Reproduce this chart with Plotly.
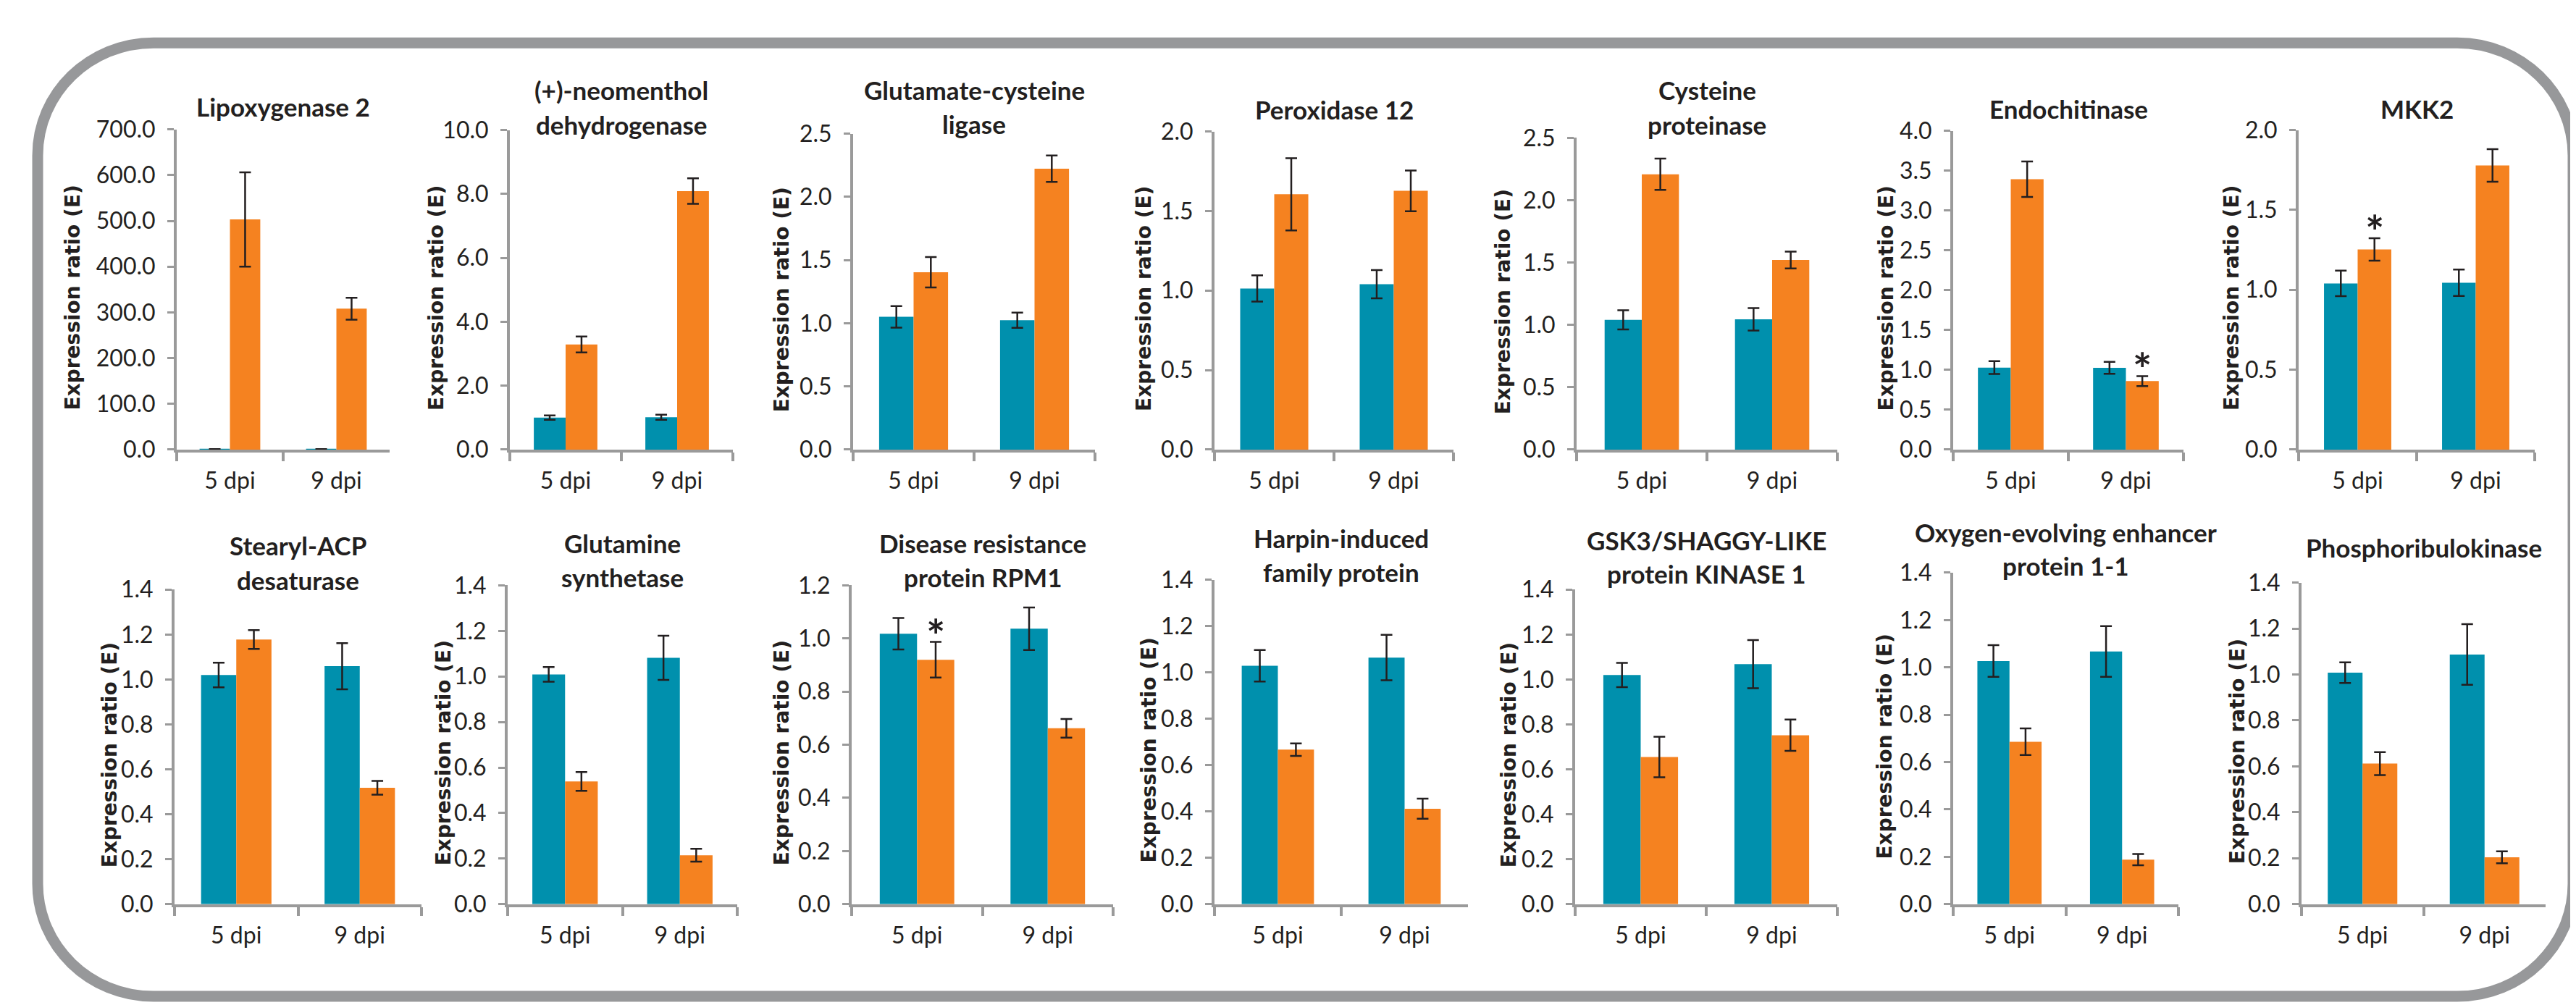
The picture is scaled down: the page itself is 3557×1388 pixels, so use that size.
import plotly.graph_objects as go

W, H = 3557, 1388

# ---------------- data ----------------
titles = [
    "Lipoxygenase 2", "(+)-neomenthol<br>dehydrogenase", "Glutamate-cysteine<br>ligase",
    "Peroxidase 12", "Cysteine<br>proteinase", "Endochitinase", "MKK2",
    "Stearyl-ACP<br>desaturase", "Glutamine<br>synthetase", "Disease resistance<br>protein RPM1",
    "Harpin-induced<br>family protein", "GSK3/SHAGGY-LIKE<br>protein KINASE 1",
    "Oxygen-evolving enhancer<br>protein 1-1", "Phosphoribulokinase",
]
categories = ["5 dpi", "9 dpi"]

ctrl_5dpi = [1.0, 1.00, 1.05, 1.013, 1.04, 1.029, 1.04, 1.02, 1.009, 1.018, 1.029, 1.02, 1.027, 1.008]
ctrl_5dpi_err = [0.1, 0.07, 0.085, 0.082, 0.077, 0.08, 0.08, 0.055, 0.032, 0.059, 0.068, 0.054, 0.067, 0.045]
ctrl_9dpi = [1.0, 1.01, 1.023, 1.04, 1.045, 1.025, 1.044, 1.059, 1.082, 1.037, 1.064, 1.068, 1.067, 1.087]
ctrl_9dpi_err = [0.1, 0.08, 0.06, 0.089, 0.09, 0.075, 0.083, 0.103, 0.097, 0.08, 0.098, 0.107, 0.107, 0.132]

trt_5dpi = [503, 3.29, 1.403, 1.605, 2.208, 3.393, 1.253, 1.178, 0.539, 0.92, 0.667, 0.655, 0.686, 0.612]
trt_5dpi_err = [103, 0.25, 0.12, 0.227, 0.126, 0.223, 0.07, 0.042, 0.041, 0.067, 0.027, 0.09, 0.056, 0.05]
trt_9dpi = [308, 8.09, 2.222, 1.627, 1.52, 0.859, 1.778, 0.518, 0.215, 0.662, 0.412, 0.752, 0.188, 0.204]
trt_9dpi_err = [24, 0.4, 0.105, 0.128, 0.068, 0.063, 0.102, 0.031, 0.028, 0.035, 0.043, 0.07, 0.024, 0.026]

y_max = [700, 10, 2.5, 2.0, 2.5, 4.0, 2.0, 1.4, 1.4, 1.2, 1.4, 1.4, 1.4, 1.4]
y_step = [100, 2, 0.5, 0.5, 0.5, 0.5, 0.5, 0.2, 0.2, 0.2, 0.2, 0.2, 0.2, 0.2]

# significance marks: (panel index, category index) on treated bars
significant = [(5, 1), (6, 0), (9, 0)]

y_title = "Expression ratio (E)"

# ---------------- layout geometry (pixels) ----------------
# x0, x1 (plot area), top, bottom
boxes = [
    (236, 530, 154, 609), (696, 1004, 155, 609), (1170, 1504, 160, 609), (1669, 1999, 157, 609),
    (2169, 2529, 166, 609), (2689, 3007, 156, 609), (3166, 3492, 155, 609),
    (233, 574, 808, 1255), (693, 1010, 802, 1255), (1168, 1529, 802, 1255), (1669, 2019, 794, 1255),
    (2167, 2529, 808, 1255), (2689, 3000, 784, 1255), (3170, 3507, 798, 1255),
]
# centre y of each title line
title_line_y = [
    [121], [98, 147], [98, 146], [126], [98, 147], [124], [124],
    [745, 794], [742, 790], [742, 790], [735, 783], [738, 785], [726, 774], [748],
]
# centre x of each y-axis title
ytitle_x = [92, 595, 1071, 1572, 2067, 2596, 3074, 143, 604, 1071, 1578, 2075, 2595, 3081]

TEAL = "#0090AD"
ORANGE = "#F58220"
AXIS = "#9A9A9A"
TXT = "#231F20"
FONT = "Lato"

def px(x):
    return x / W

def py(y):
    return 1 - y / H

fig = go.Figure()
annotations = []
layout = {}

for i in range(14):
    n = "" if i == 0 else str(i + 1)
    xa, ya = "x" + n, "y" + n
    x0, x1, yt, yb = boxes[i]
    fig.add_trace(go.Bar(
        x=categories, y=[ctrl_5dpi[i], ctrl_9dpi[i]], name="Control",
        marker=dict(color=TEAL, line=dict(width=0)),
        error_y=dict(type="data", array=[ctrl_5dpi_err[i], ctrl_9dpi_err[i]],
                     color=TXT, thickness=2.5, width=8),
        xaxis=xa, yaxis=ya, showlegend=False))
    fig.add_trace(go.Bar(
        x=categories, y=[trt_5dpi[i], trt_9dpi[i]], name="Treated",
        marker=dict(color=ORANGE, line=dict(width=0)),
        error_y=dict(type="data", array=[trt_5dpi_err[i], trt_9dpi_err[i]],
                     color=TXT, thickness=2.5, width=8),
        xaxis=xa, yaxis=ya, showlegend=False))

    layout["xaxis" + n] = dict(
        domain=[px(x0), px(x1)], anchor=ya, type="category", range=[-0.5, 1.5],
        tickson="boundaries", ticks="outside", ticklen=12, tickwidth=4, tickcolor=AXIS,
        showline=True, linecolor=AXIS, linewidth=4, showgrid=False,
        tickfont=dict(family=FONT, size=32, color=TXT), ticklabelstandoff=12)
    layout["yaxis" + n] = dict(
        domain=[py(yb), py(yt)], anchor=xa, range=[0, y_max[i]], tick0=0, dtick=y_step[i],
        tickformat=".1f", ticks="outside", ticklen=9, tickwidth=3, tickcolor=AXIS,
        showline=True, linecolor=AXIS, linewidth=4, showgrid=False, zeroline=False,
        tickfont=dict(family=FONT, size=32, color=TXT), ticklabelstandoff=10)

    # title lines
    lines = titles[i].split("<br>")
    for line, ly in zip(lines, title_line_y[i]):
        annotations.append(dict(
            text="<b>" + line + "</b>", x=px((x0 + x1) / 2), y=py(ly), xref="paper", yref="paper",
            xanchor="center", yanchor="middle", showarrow=False,
            font=dict(family=FONT, size=35, color=TXT)))
    # y-axis title
    annotations.append(dict(
        text="<b>" + y_title + "</b>", x=px(ytitle_x[i]), y=py((yt + yb) / 2 + 12),
        xref="paper", yref="paper", xanchor="center", yanchor="middle", textangle=-90,
        showarrow=False, font=dict(family="DejaVu Sans", size=28, color=TXT)))

# significance asterisks
bargap = 0.43
for (i, c) in significant:
    n = "" if i == 0 else str(i + 1)
    val = trt_5dpi[i] + trt_5dpi_err[i] if c == 0 else trt_9dpi[i] + trt_9dpi_err[i]
    annotations.append(dict(
        text="<b>*</b>", x=c + (1 - bargap) / 4, y=val, xref="x" + n, yref="y" + n,
        xanchor="center", yanchor="middle", yshift=10, showarrow=False,
        font=dict(family=FONT, size=62, color=TXT)))

# rounded frame
bx0, by0, bx1, by1, r = 44, 31, 3545, 1386, 160
k = 0.5523 * r
def P(x, y):
    return f"{px(x):.6f},{py(y):.6f}"
path = (
    f"M {P(bx0 + r, by0)} L {P(bx1 - r, by0)} "
    f"C {P(bx1 - r + k, by0)} {P(bx1, by0 + r - k)} {P(bx1, by0 + r)} "
    f"L {P(bx1, by1 - r)} "
    f"C {P(bx1, by1 - r + k)} {P(bx1 - r + k, by1)} {P(bx1 - r, by1)} "
    f"L {P(bx0 + r, by1)} "
    f"C {P(bx0 + r - k, by1)} {P(bx0, by1 - r + k)} {P(bx0, by1 - r)} "
    f"L {P(bx0, by0 + r)} "
    f"C {P(bx0, by0 + r - k)} {P(bx0 + r - k, by0)} {P(bx0 + r, by0)} Z"
)

fig.update_layout(
    width=W, height=H, margin=dict(l=0, r=0, t=0, b=0),
    paper_bgcolor="white", plot_bgcolor="white",
    barmode="group", bargap=bargap, bargroupgap=0,
    showlegend=False, annotations=annotations,
    shapes=[dict(type="path", path=path, xref="paper", yref="paper",
                 line=dict(color="#97989A", width=15), layer="below")],
    **layout,
)

fig.write_html("out.html")
